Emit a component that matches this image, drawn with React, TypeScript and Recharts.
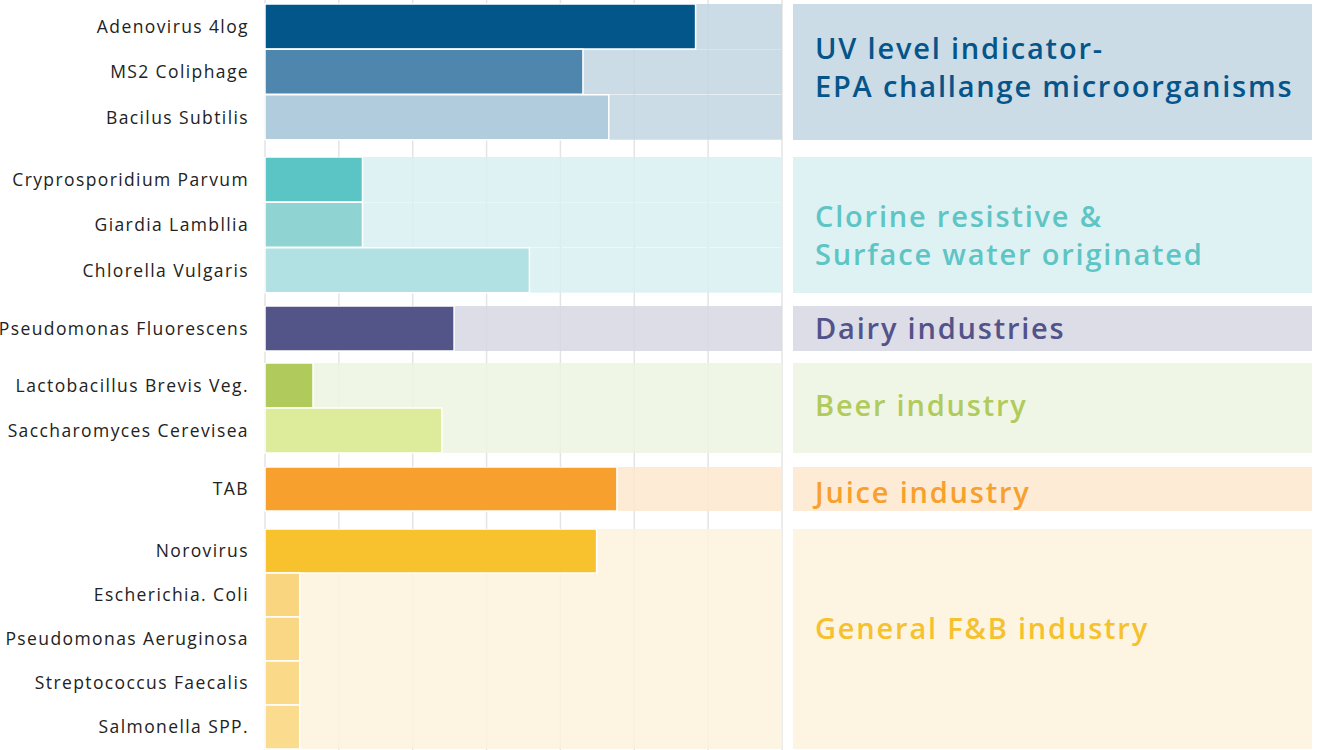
import { BarChart, Bar, Cell, XAxis, YAxis, CartesianGrid } from 'recharts';

const organisms = [
  'Adenovirus 4log',
  'MS2 Coliphage',
  'Bacilus Subtilis',
  'Cryprosporidium Parvum',
  'Giardia Lambllia',
  'Chlorella Vulgaris',
  'Pseudomonas Fluorescens',
  'Lactobacillus Brevis Veg.',
  'Saccharomyces Cerevisea',
  'TAB',
  'Norovirus',
  'Escherichia. Coli',
  'Pseudomonas Aeruginosa',
  'Streptococcus Faecalis',
  'Salmonella SPP.',
];
const doses = [116.6, 86.1, 93.1, 26.4, 26.4, 71.6, 51.2, 13.0, 47.9, 95.3, 89.8, 9.4, 9.4, 9.4, 9.4];
const barColors = [
  '#02568a', '#4f86ad', '#b1cddd',
  '#5bc5c5', '#8fd3d2', '#b1e1e2',
  '#535487',
  '#b0cb5b', '#dcec9b',
  '#f7a02e',
  '#f8c12e', '#f9d57f', '#f9d784', '#fad988', '#fbdc8e',
];

const groupTitles = [
  ['UV level indicator-', 'EPA challange microorganisms'],
  ['Clorine resistive &', 'Surface water originated'],
  ['Dairy industries'],
  ['Beer industry'],
  ['Juice industry'],
  ['General F&B industry'],
];
const groupSizes = [3, 3, 1, 2, 1, 5];
const bandColors = ['#c3d6e2', '#d8f0f2', '#d6d7e3', '#edf4e2', '#fde8ce', '#fdf3dd'];
const panelColors = ['#ccdce6', '#def2f4', '#dcdde7', '#f0f6e6', '#fdebd5', '#fdf5e2'];
const titleColors = ['#05558a', '#5fc5c4', '#53538a', '#b0cb5b', '#f7a02e', '#f6c12e'];
const xTicks = [0, 20, 40, 60, 80, 100, 120, 140];

// layout
const ROW_H = [45.33, 45.33, 45, 45, 44, 44];
const GAPS = [17, 13, 12, 14, 18, 1];
const TITLE_SHIFT = [-5, 10, 0, -3, 3, -11];
const TOP_PAD = 4;
const AXIS_W = 265;
const PLOT_RIGHT = 782;
const FONT = "'Open Sans', sans-serif";

function GroupChart({ g, start }: { g: number; start: number }) {
  const n = groupSizes[g];
  const rows = organisms.slice(start, start + n).map((name, i) => ({
    name,
    dose: doses[start + i],
    color: barColors[start + i],
  }));
  const padTop = g === 0 ? TOP_PAD : 0;
  const height = padTop + n * ROW_H[g] + GAPS[g];

  return (
    <BarChart
      layout="vertical"
      width={PLOT_RIGHT + 2}
      height={height}
      data={rows}
      margin={{ top: 0, right: 2, bottom: 0, left: 0 }}
      barCategoryGap={0}
    >
      <CartesianGrid horizontal={false} stroke="#e4e4e4" strokeWidth={1.5} />
      <XAxis type="number" domain={[0, 140]} ticks={xTicks} hide />
      <YAxis
        type="category"
        dataKey="name"
        width={AXIS_W}
        axisLine={false}
        tickLine={false}
        tickMargin={10}
        interval={0}
        padding={{ top: padTop, bottom: GAPS[g] }}
        tick={{ fill: '#222222', fontSize: 17.5, fontFamily: FONT, letterSpacing: 1.4 }}
      />
      <Bar
        dataKey="dose"
        isAnimationActive={false}
        background={{ fill: bandColors[g], fillOpacity: 0.85 }}
        stroke="#ffffff"
        strokeWidth={1.5}
      >
        {rows.map((r) => (
          <Cell key={r.name} fill={r.color} />
        ))}
      </Bar>
    </BarChart>
  );
}

export default function App() {
  let start = 0;
  let top = 0;
  const blocks = groupSizes.map((n, g) => {
    const padTop = g === 0 ? TOP_PAD : 0;
    const h = padTop + n * ROW_H[g] + GAPS[g];
    const block = { g, start, top, bandTop: top + padTop, bandH: n * ROW_H[g] };
    start += n;
    top += h;
    return block;
  });

  return (
    <div style={{ position: 'absolute', left: 0, top: 0, width: 1319, height: 750, background: '#fff', overflow: 'hidden' }}>
      {blocks.map((b) => (
        <div key={`chart-${b.g}`} style={{ position: 'absolute', left: 0, top: b.top }}>
          <GroupChart g={b.g} start={b.start} />
        </div>
      ))}
      {blocks.map((b) => (
        <div
          key={`panel-${b.g}`}
          style={{
            position: 'absolute',
            left: 793,
            top: b.bandTop,
            width: 519,
            height: b.bandH,
            background: panelColors[b.g],
            display: 'flex',
            flexDirection: 'column',
            justifyContent: 'center',
            paddingLeft: 22,
            boxSizing: 'border-box',
            fontFamily: FONT,
            fontWeight: 600,
            fontSize: 29,
            letterSpacing: 1.8,
            lineHeight: '38px',
            color: titleColors[b.g],
          }}
        >
          <div style={{ transform: `translateY(${TITLE_SHIFT[b.g]}px)` }}>
            {groupTitles[b.g].map((t) => (
              <div key={t}>{t}</div>
            ))}
          </div>
        </div>
      ))}
    </div>
  );
}
